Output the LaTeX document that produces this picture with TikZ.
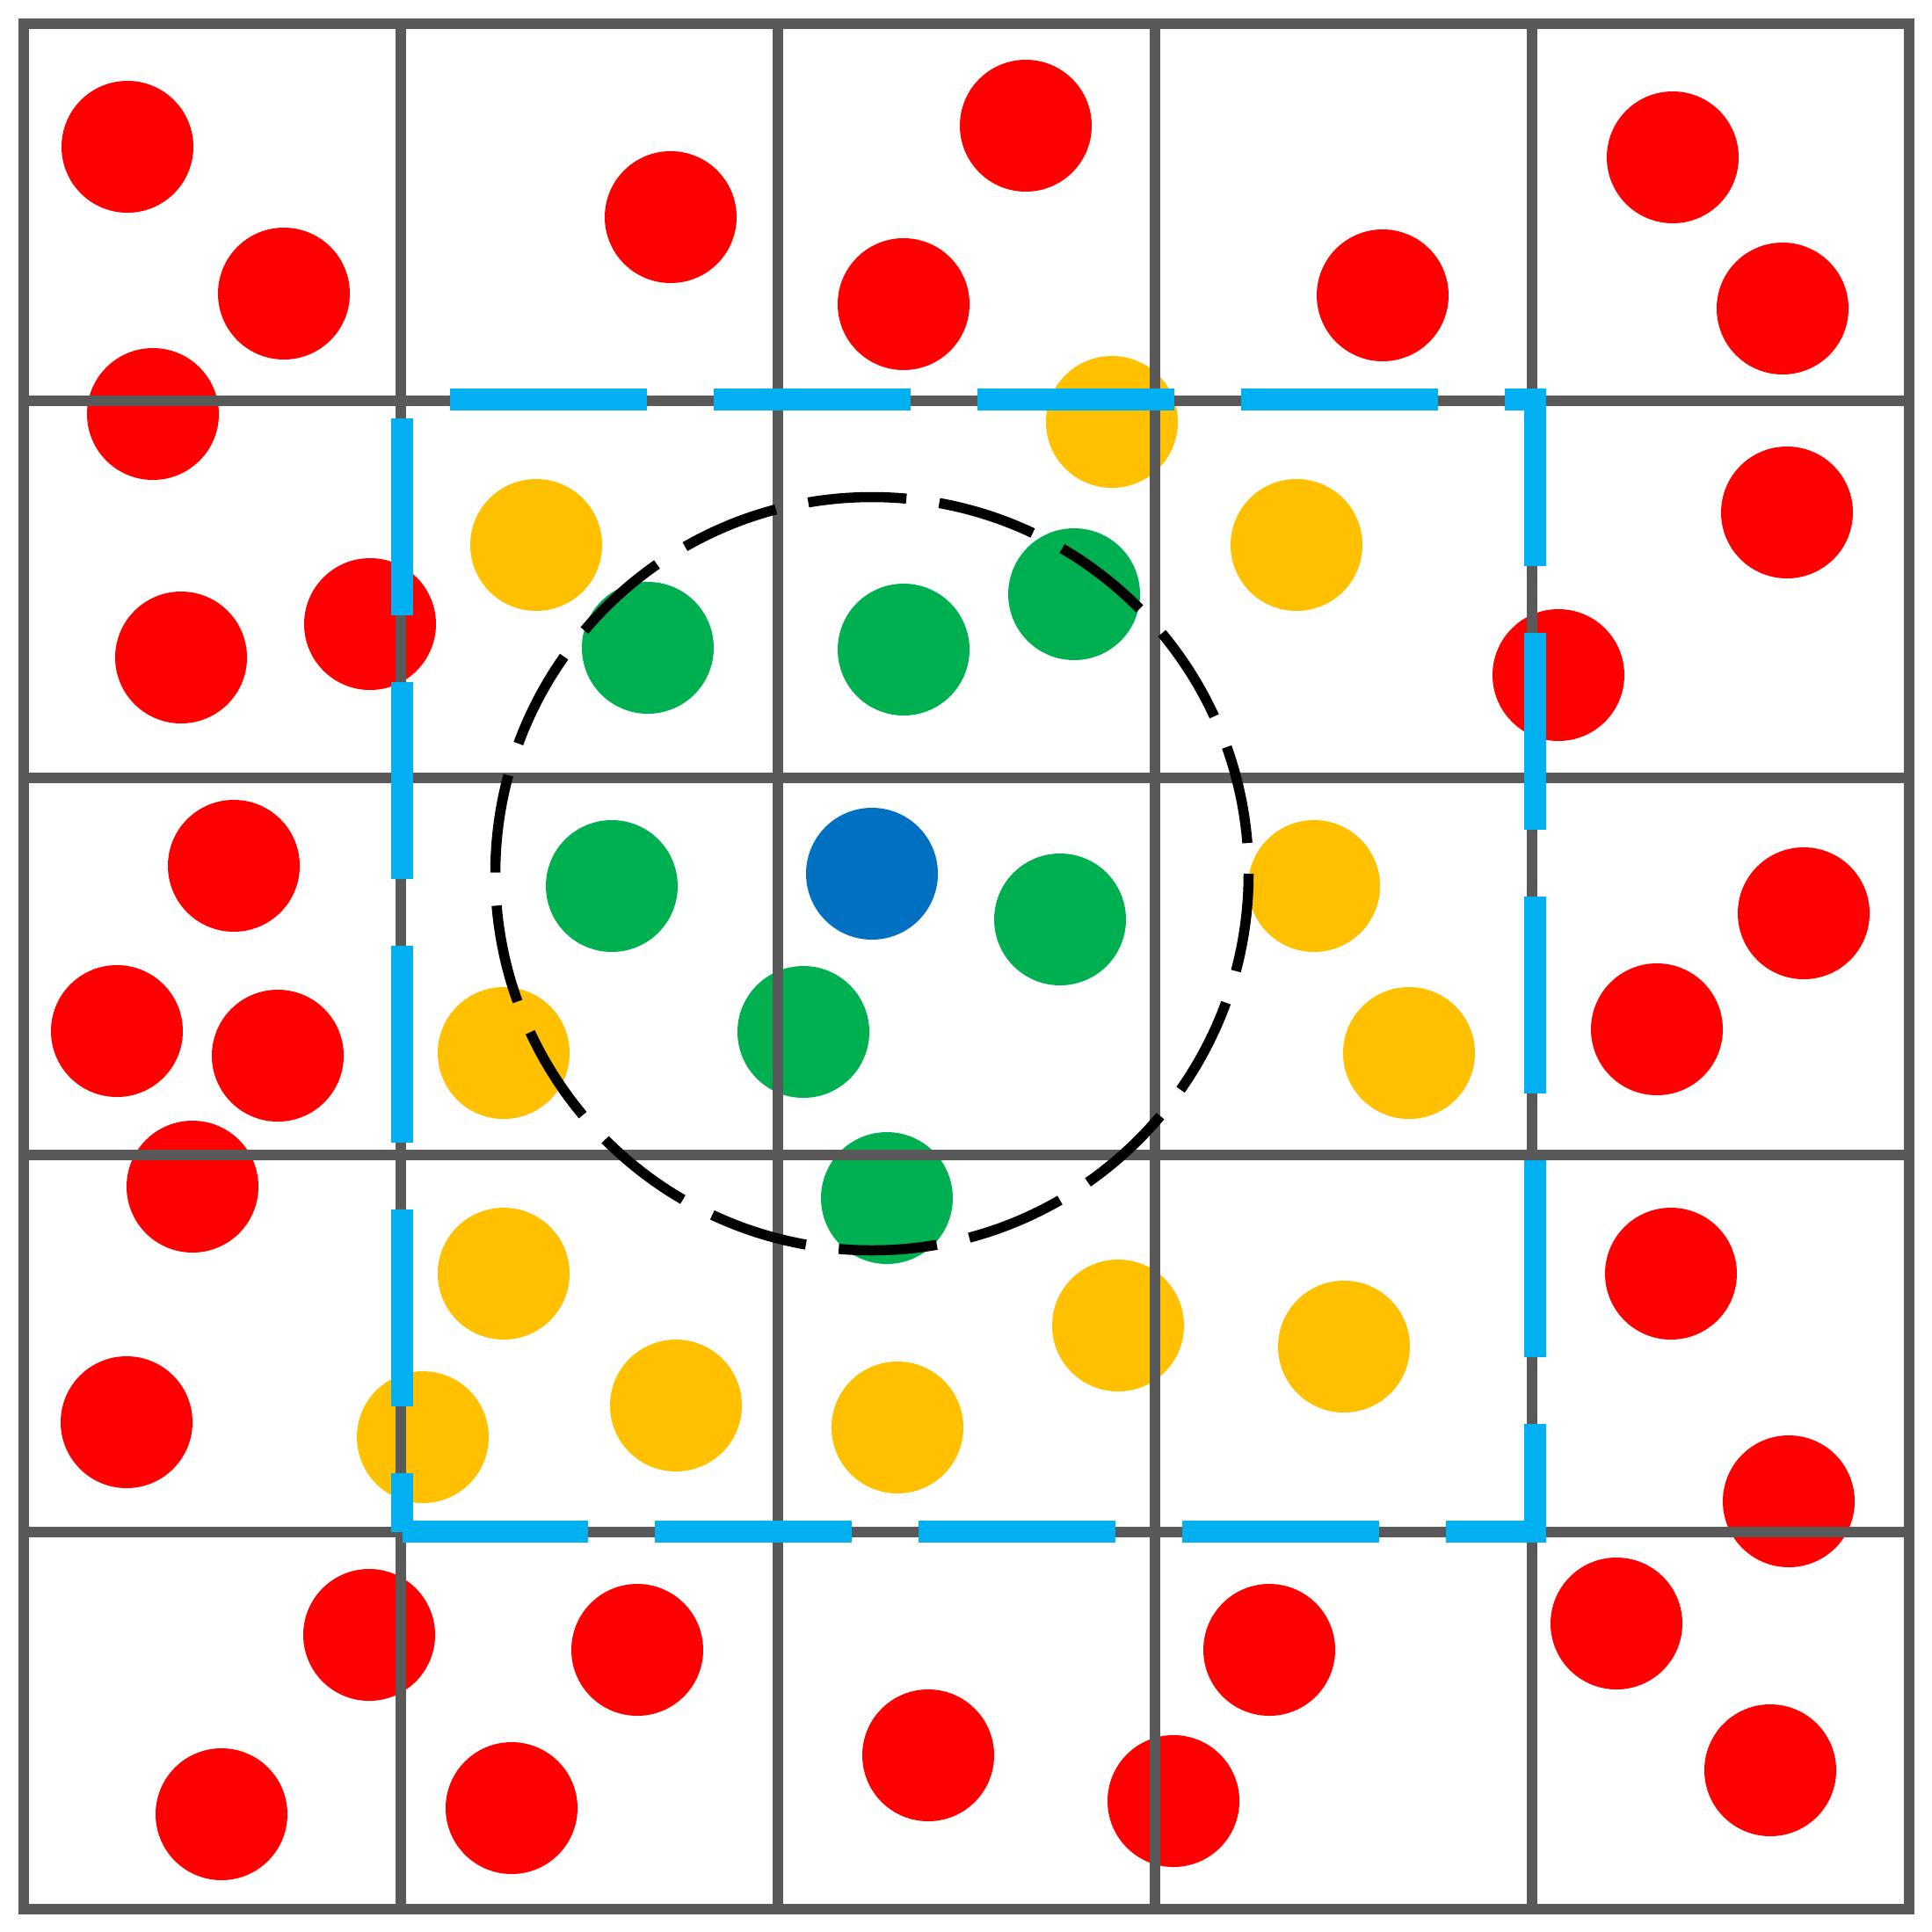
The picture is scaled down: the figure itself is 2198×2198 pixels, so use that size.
\documentclass[tikz,border=0pt]{standalone}
\definecolor{cred}{HTML}{FF0000}
\definecolor{cyel}{HTML}{FFC000}
\definecolor{cgrn}{HTML}{00B050}
\definecolor{cblu}{HTML}{0070C0}
\definecolor{cltb}{HTML}{00B0F0}
\definecolor{cgry}{HTML}{595959}
\tikzset{
  dot/.style={circle,inner sep=0pt,minimum size=150pt,draw=none},
  reddot/.style={dot,fill=cred},
  yeldot/.style={dot,fill=cyel},
  grndot/.style={dot,fill=cgrn},
  bludot/.style={dot,fill=cblu},
  gridline/.style={draw=cgry,line width=12pt,line cap=rect},
  zone/.style={draw=cltb,line width=25pt,dash pattern=on 224pt off 76pt,dash phase=12.5pt,line join=miter},
  radius line/.style={draw=black,line width=11.5pt,dash pattern=on 112pt off 37.75pt}
}
\begin{document}
\begin{tikzpicture}[x=1pt,y=-1pt]
\useasboundingbox (0,0) rectangle (2198,2198);
\fill[white] (0,0) rectangle (2198,2198);
% red dots
\foreach \n/\px/\py in {1/145/167, 2/323/334, 3/174/471, 4/763/247, 5/1167/143, 6/1028/346,
  7/1573/336, 8/1903/179, 9/2028/351, 10/2033/583, 11/421/710, 12/206/748, 13/1773/768,
  14/266/985, 15/133/1173, 16/316/1201, 17/2052/1039, 18/1885/1171, 19/219/1350,
  20/1901/1449, 21/144/1618, 22/2035/1708, 23/420/1860, 24/725/1877, 25/252/2064,
  26/582/2057, 27/1056/1997, 28/1335/2049, 29/1444/1877, 30/1839/1847, 31/2014/2014}
  \node[reddot] (r\n) at (\px,\py) {};
% yellow dots
\foreach \n/\px/\py in {1/1265/480, 2/610/620, 3/1475/620, 4/1495/1008, 5/573/1198,
  6/1603/1198, 7/573/1449, 8/1272/1508, 9/1529/1532, 10/481/1635, 11/769/1599, 12/1021/1624}
  \node[yeldot] (y\n) at (\px,\py) {};
% green dots
\foreach \n/\px/\py in {1/737/737, 2/1028/739, 3/1222/676, 4/696/1008, 5/1206/1046,
  6/914/1174, 7/1009/1363}
  \node[grndot] (g\n) at (\px,\py) {};
% query point
\node[bludot] (q) at (992,994) {};
% grid
\foreach \k in {0,...,5}{
  \draw[gridline] (27+429*\k,27) -- (27+429*\k,2172);
  \draw[gridline] (27,27+429*\k) -- (2172,27+429*\k);
}
% dashed search zone
\coordinate (zbl) at (457.5,1742.7);
\coordinate (zbr) at (1746.3,1742.7);
\coordinate (ztr) at (1746.3,454.2);
\coordinate (ztl) at (457.5,454.2);
\draw[zone] (zbl) -- (zbr) -- (ztr) -- (ztl) -- cycle;
% dashed radius circle
\draw[radius line] (q.center) circle[radius=428.5];
\end{tikzpicture}
\end{document}
